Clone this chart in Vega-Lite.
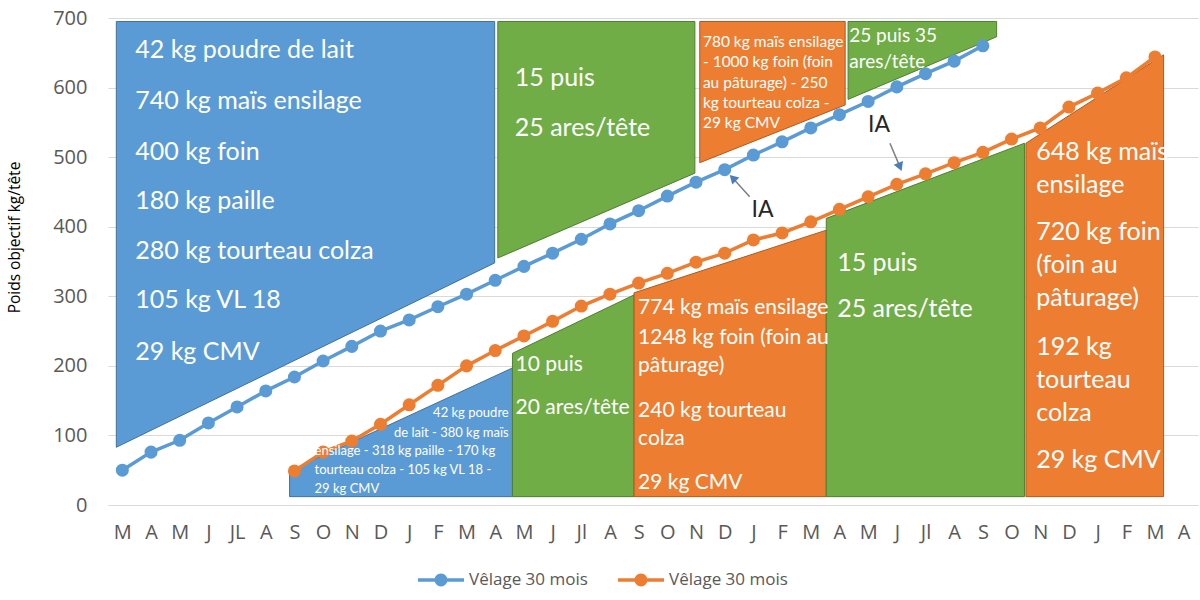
{
  "$schema": "https://vega.github.io/schema/vega-lite/v6.json",
  "width": 1090,
  "height": 487,
  "autosize": {"type": "none"},
  "padding": {"left": 108, "top": 18, "right": 2, "bottom": 95},
  "config": {"view": {"stroke": null}, "font": "Lato"},
  "datasets": {
    "zones": [
      {"zone": "z1", "ration": "bleu", "mois": -0.21, "poids": 695, "bas": 83},
      {"zone": "z1", "ration": "bleu", "mois": 12.98, "poids": 695, "bas": 348},
      {"zone": "z2", "ration": "vert", "mois": 13.09, "poids": 695, "bas": 355},
      {"zone": "z2", "ration": "vert", "mois": 19.96, "poids": 695, "bas": 477},
      {"zone": "z3", "ration": "orange", "mois": 20.13, "poids": 695, "bas": 492},
      {"zone": "z3", "ration": "orange", "mois": 25.2, "poids": 695, "bas": 575},
      {"zone": "z4", "ration": "vert", "mois": 25.3, "poids": 695, "bas": 583},
      {"zone": "z4", "ration": "vert", "mois": 30.48, "poids": 695, "bas": 673},
      {"zone": "z5", "ration": "bleu", "mois": 5.83, "poids": 49, "bas": 12},
      {"zone": "z5", "ration": "bleu", "mois": 13.6, "poids": 197, "bas": 12},
      {"zone": "z6", "ration": "vert", "mois": 13.6, "poids": 218, "bas": 12},
      {"zone": "z6", "ration": "vert", "mois": 17.84, "poids": 302, "bas": 12},
      {"zone": "z7", "ration": "orange", "mois": 17.84, "poids": 305, "bas": 12},
      {"zone": "z7", "ration": "orange", "mois": 24.54, "poids": 395, "bas": 12},
      {"zone": "z8", "ration": "vert", "mois": 24.54, "poids": 412, "bas": 12},
      {"zone": "z8", "ration": "vert", "mois": 31.45, "poids": 520, "bas": 12},
      {"zone": "z9", "ration": "orange", "mois": 31.5, "poids": 520, "bas": 12},
      {"zone": "z9", "ration": "orange", "mois": 36.3, "poids": 647, "bas": 12}
    ],
    "croissance": [
      {"lot": "lot1", "mois": 0, "poids": 50},
      {"lot": "lot1", "mois": 1, "poids": 76},
      {"lot": "lot1", "mois": 2, "poids": 93},
      {"lot": "lot1", "mois": 3, "poids": 118},
      {"lot": "lot1", "mois": 4, "poids": 141},
      {"lot": "lot1", "mois": 5, "poids": 164},
      {"lot": "lot1", "mois": 6, "poids": 184},
      {"lot": "lot1", "mois": 7, "poids": 207},
      {"lot": "lot1", "mois": 8, "poids": 228},
      {"lot": "lot1", "mois": 9, "poids": 250},
      {"lot": "lot1", "mois": 10, "poids": 266},
      {"lot": "lot1", "mois": 11, "poids": 285},
      {"lot": "lot1", "mois": 12, "poids": 303},
      {"lot": "lot1", "mois": 13, "poids": 323},
      {"lot": "lot1", "mois": 14, "poids": 343},
      {"lot": "lot1", "mois": 15, "poids": 362},
      {"lot": "lot1", "mois": 16, "poids": 382},
      {"lot": "lot1", "mois": 17, "poids": 404},
      {"lot": "lot1", "mois": 18, "poids": 423},
      {"lot": "lot1", "mois": 19, "poids": 444},
      {"lot": "lot1", "mois": 20, "poids": 464},
      {"lot": "lot1", "mois": 21, "poids": 482},
      {"lot": "lot1", "mois": 22, "poids": 503},
      {"lot": "lot1", "mois": 23, "poids": 522},
      {"lot": "lot1", "mois": 24, "poids": 542},
      {"lot": "lot1", "mois": 25, "poids": 561},
      {"lot": "lot1", "mois": 26, "poids": 580},
      {"lot": "lot1", "mois": 27, "poids": 601},
      {"lot": "lot1", "mois": 28, "poids": 620},
      {"lot": "lot1", "mois": 29, "poids": 638},
      {"lot": "lot1", "mois": 30, "poids": 660},
      {"lot": "lot2", "mois": 6, "poids": 49},
      {"lot": "lot2", "mois": 7, "poids": 76},
      {"lot": "lot2", "mois": 8, "poids": 92},
      {"lot": "lot2", "mois": 9, "poids": 116},
      {"lot": "lot2", "mois": 10, "poids": 144},
      {"lot": "lot2", "mois": 11, "poids": 172},
      {"lot": "lot2", "mois": 12, "poids": 200},
      {"lot": "lot2", "mois": 13, "poids": 222},
      {"lot": "lot2", "mois": 14, "poids": 243},
      {"lot": "lot2", "mois": 15, "poids": 264},
      {"lot": "lot2", "mois": 16, "poids": 286},
      {"lot": "lot2", "mois": 17, "poids": 303},
      {"lot": "lot2", "mois": 18, "poids": 319},
      {"lot": "lot2", "mois": 19, "poids": 333},
      {"lot": "lot2", "mois": 20, "poids": 349},
      {"lot": "lot2", "mois": 21, "poids": 362},
      {"lot": "lot2", "mois": 22, "poids": 381},
      {"lot": "lot2", "mois": 23, "poids": 391},
      {"lot": "lot2", "mois": 24, "poids": 407},
      {"lot": "lot2", "mois": 25, "poids": 425},
      {"lot": "lot2", "mois": 26, "poids": 443},
      {"lot": "lot2", "mois": 27, "poids": 461},
      {"lot": "lot2", "mois": 28, "poids": 476},
      {"lot": "lot2", "mois": 29, "poids": 492},
      {"lot": "lot2", "mois": 30, "poids": 507},
      {"lot": "lot2", "mois": 31, "poids": 526},
      {"lot": "lot2", "mois": 32, "poids": 542},
      {"lot": "lot2", "mois": 33, "poids": 572},
      {"lot": "lot2", "mois": 34, "poids": 592},
      {"lot": "lot2", "mois": 35, "poids": 614},
      {"lot": "lot2", "mois": 36, "poids": 644}
    ],
    "fleches": [
      {"id": 1, "mois": 21.28, "poids": 470, "mois2": 21.87, "poids2": 443},
      {"id": 2, "mois": 27.11, "poids": 486, "mois2": 26.76, "poids2": 520}
    ],
    "textes": [
      {"groupe": "g25", "mois": 0.45, "poids": 654, "texte": "42 kg poudre de lait"},
      {"groupe": "g25", "mois": 0.45, "poids": 581, "texte": "740 kg maïs ensilage"},
      {"groupe": "g25", "mois": 0.45, "poids": 507, "texte": "400 kg foin"},
      {"groupe": "g25", "mois": 0.45, "poids": 437, "texte": "180 kg paille"},
      {"groupe": "g25", "mois": 0.45, "poids": 365, "texte": "280 kg tourteau colza"},
      {"groupe": "g25", "mois": 0.45, "poids": 295, "texte": "105 kg VL 18"},
      {"groupe": "g25", "mois": 0.45, "poids": 220, "texte": "29 kg CMV"},
      {"groupe": "g25", "mois": 13.68, "poids": 614, "texte": "15 puis"},
      {"groupe": "g25", "mois": 13.68, "poids": 542, "texte": "25 ares/tête"},
      {"groupe": "g25", "mois": 24.92, "poids": 348, "texte": "15 puis"},
      {"groupe": "g25", "mois": 24.92, "poids": 282, "texte": "25 ares/tête"},
      {"groupe": "g25", "mois": 31.86, "poids": 507, "texte": "648 kg maïs"},
      {"groupe": "g25", "mois": 31.86, "poids": 460, "texte": "ensilage"},
      {"groupe": "g25", "mois": 31.86, "poids": 392, "texte": "720 kg foin"},
      {"groupe": "g25", "mois": 31.86, "poids": 345, "texte": "(foin au"},
      {"groupe": "g25", "mois": 31.86, "poids": 298, "texte": "pâturage)"},
      {"groupe": "g25", "mois": 31.86, "poids": 227, "texte": "192 kg"},
      {"groupe": "g25", "mois": 31.86, "poids": 180, "texte": "tourteau"},
      {"groupe": "g25", "mois": 31.86, "poids": 132, "texte": "colza"},
      {"groupe": "g25", "mois": 31.86, "poids": 65, "texte": "29 kg CMV"},
      {"groupe": "g21", "mois": 17.98, "poids": 283, "texte": "774 kg maïs ensilage"},
      {"groupe": "g21", "mois": 17.98, "poids": 240, "texte": "1248 kg foin (foin au"},
      {"groupe": "g21", "mois": 17.98, "poids": 200, "texte": "pâturage)"},
      {"groupe": "g21", "mois": 17.98, "poids": 135, "texte": "240 kg tourteau"},
      {"groupe": "g21", "mois": 17.98, "poids": 95, "texte": "colza"},
      {"groupe": "g21", "mois": 17.98, "poids": 32, "texte": "29 kg CMV"},
      {"groupe": "g21", "mois": 13.71, "poids": 201, "texte": "10 puis"},
      {"groupe": "g21", "mois": 13.71, "poids": 139, "texte": "20 ares/tête"},
      {"groupe": "g19", "mois": 25.34, "poids": 674, "texte": "25 puis 35"},
      {"groupe": "g19", "mois": 25.34, "poids": 637, "texte": "ares/tête"},
      {"groupe": "g15", "mois": 20.24, "poids": 666, "texte": "780 kg maïs ensilage"},
      {"groupe": "g15", "mois": 20.24, "poids": 637, "texte": "- 1000 kg foin  (foin"},
      {"groupe": "g15", "mois": 20.24, "poids": 607, "texte": "au pâturage) - 250"},
      {"groupe": "g15", "mois": 20.24, "poids": 578, "texte": "kg tourteau colza -"},
      {"groupe": "g15", "mois": 20.24, "poids": 549, "texte": "29 kg CMV"},
      {"groupe": "g13d", "mois": 13.47, "poids": 132, "texte": "42 kg poudre"},
      {"groupe": "g13d", "mois": 13.47, "poids": 103, "texte": "de lait - 380 kg maïs"},
      {"groupe": "g13g", "mois": 6.7, "poids": 78, "texte": "ensilage - 318 kg paille - 170 kg"},
      {"groupe": "g13g", "mois": 6.7, "poids": 50, "texte": "tourteau colza - 105 kg VL 18 -"},
      {"groupe": "g13g", "mois": 6.7, "poids": 23, "texte": "29 kg CMV"},
      {"groupe": "ia", "mois": 22.32, "poids": 424, "texte": "IA"},
      {"groupe": "ia", "mois": 26.38, "poids": 546, "texte": "IA"}
    ]
  },
  "encoding": {
    "x": {
      "field": "mois",
      "type": "quantitative",
      "scale": {"domain": [-0.5, 37.5], "nice": false, "zero": false},
      "axis": {
        "title": null,
        "values": [0, 1, 2, 3, 4, 5, 6, 7, 8, 9, 10, 11, 12, 13, 14, 15, 16, 17, 18, 19, 20, 21, 22, 23, 24, 25, 26, 27, 28, 29, 30, 31, 32, 33, 34, 35, 36, 37],
        "labelExpr": "['M','A','M','J','JL','A','S','O','N','D','J','F','M','A','M','J','Jl','A','S','O','N','D','J','F','M','A','M','J','Jl','A','S','O','N','D','J','F','M','A'][datum.value]",
        "grid": false,
        "ticks": false,
        "domainColor": "#d9d9d9",
        "labelColor": "#595959",
        "labelFontSize": 20,
        "labelFont": "Open Sans",
        "labelPadding": 17,
        "labelFlush": false,
        "labelOverlap": false
      }
    },
    "y": {
      "field": "poids",
      "type": "quantitative",
      "scale": {"domain": [0, 700], "nice": false},
      "axis": {
        "title": "Poids objectif kg/tête",
        "titleFontSize": 15.5,
        "titleFontWeight": "normal",
        "titleColor": "black",
        "titleFont": "Open Sans",
        "titleX": -86,
        "titleY": 219,
        "titleAngle": -90,
        "titleAlign": "center",
        "titleBaseline": "bottom",
        "values": [0, 100, 200, 300, 400, 500, 600, 700],
        "grid": true,
        "gridColor": "#d9d9d9",
        "domain": false,
        "ticks": false,
        "labelColor": "#595959",
        "labelFontSize": 20,
        "labelFont": "Open Sans",
        "labelPadding": 21
      }
    }
  },
  "layer": [
    {
      "data": {"name": "zones"},
      "mark": {"type": "area", "strokeWidth": 1, "fillOpacity": 1},
      "encoding": {
        "y2": {"field": "bas"},
        "detail": {"field": "zone"},
        "fill": {
          "field": "ration",
          "type": "nominal",
          "scale": {"domain": ["bleu", "vert", "orange"], "range": ["#5b9bd5", "#70ad47", "#ed7d31"]},
          "legend": null
        },
        "stroke": {
          "field": "ration",
          "type": "nominal",
          "scale": {"domain": ["bleu", "vert", "orange"], "range": ["#41719c", "#507e32", "#ae5a21"]},
          "legend": null
        }
      }
    },
    {
      "data": {"name": "fleches"},
      "mark": {"type": "rule", "color": "#7f7f7f", "strokeWidth": 1.5},
      "encoding": {
        "x2": {"field": "mois2"},
        "y2": {"field": "poids2"}
      }
    },
    {
      "data": {"name": "fleches"},
      "transform": [{"filter": "datum.id == 1"}],
      "mark": {"type": "point", "shape": "triangle-up", "filled": true, "size": 100, "angle": 315, "color": "#4a7ebb", "opacity": 1},
      "encoding": {}
    },
    {
      "data": {"name": "fleches"},
      "transform": [{"filter": "datum.id == 2"}],
      "mark": {"type": "point", "shape": "triangle-up", "filled": true, "size": 100, "angle": 158, "color": "#4a7ebb", "opacity": 1},
      "encoding": {}
    },
    {
      "data": {"name": "croissance"},
      "mark": {"type": "line", "strokeWidth": 3.5, "point": {"filled": true, "size": 170, "opacity": 1}},
      "encoding": {
        "color": {
          "field": "lot",
          "type": "nominal",
          "scale": {"domain": ["lot1", "lot2"], "range": ["#5b9bd5", "#ed7d31"]},
          "legend": {
            "title": null,
            "orient": "none",
            "direction": "horizontal",
            "legendX": 310,
            "legendY": 539,
            "padding": 0,
            "columnPadding": 30,
            "labelExpr": "'Vêlage 30 mois'",
            "labelFontSize": 17,
            "labelFont": "Open Sans",
            "labelColor": "#595959",
            "labelOffset": 5,
            "symbolType": "M-1,-0.08H1V0.08H-1Z M0.28,0A0.28,0.28,0,1,1,-0.28,0A0.28,0.28,0,1,1,0.28,0Z",
            "symbolSize": 2116,
            "symbolStrokeWidth": 0,
            "encode": {
              "symbols": {"update": {"fill": {"scale": "color", "field": "value"}, "strokeWidth": {"value": 0}, "opacity": {"value": 1}}}
            }
          }
        }
      }
    },
    {
      "data": {"name": "textes"},
      "transform": [{"filter": "datum.groupe == 'g25'"}],
      "mark": {"type": "text", "align": "left", "baseline": "middle", "fontSize": 25, "color": "white"},
      "encoding": {"text": {"field": "texte"}}
    },
    {
      "data": {"name": "textes"},
      "transform": [{"filter": "datum.groupe == 'g21'"}],
      "mark": {"type": "text", "align": "left", "baseline": "middle", "fontSize": 21, "color": "white"},
      "encoding": {"text": {"field": "texte"}}
    },
    {
      "data": {"name": "textes"},
      "transform": [{"filter": "datum.groupe == 'g19'"}],
      "mark": {"type": "text", "align": "left", "baseline": "middle", "fontSize": 19, "color": "white"},
      "encoding": {"text": {"field": "texte"}}
    },
    {
      "data": {"name": "textes"},
      "transform": [{"filter": "datum.groupe == 'g15'"}],
      "mark": {"type": "text", "align": "left", "baseline": "middle", "fontSize": 15.5, "color": "white"},
      "encoding": {"text": {"field": "texte"}}
    },
    {
      "data": {"name": "textes"},
      "transform": [{"filter": "datum.groupe == 'g13d'"}],
      "mark": {"type": "text", "align": "right", "baseline": "middle", "fontSize": 13, "color": "white"},
      "encoding": {"text": {"field": "texte"}}
    },
    {
      "data": {"name": "textes"},
      "transform": [{"filter": "datum.groupe == 'g13g'"}],
      "mark": {"type": "text", "align": "left", "baseline": "middle", "fontSize": 13, "color": "white"},
      "encoding": {"text": {"field": "texte"}}
    },
    {
      "data": {"name": "textes"},
      "transform": [{"filter": "datum.groupe == 'ia'"}],
      "mark": {"type": "text", "align": "center", "baseline": "middle", "fontSize": 23, "color": "#262626"},
      "encoding": {"text": {"field": "texte"}}
    }
  ]
}
